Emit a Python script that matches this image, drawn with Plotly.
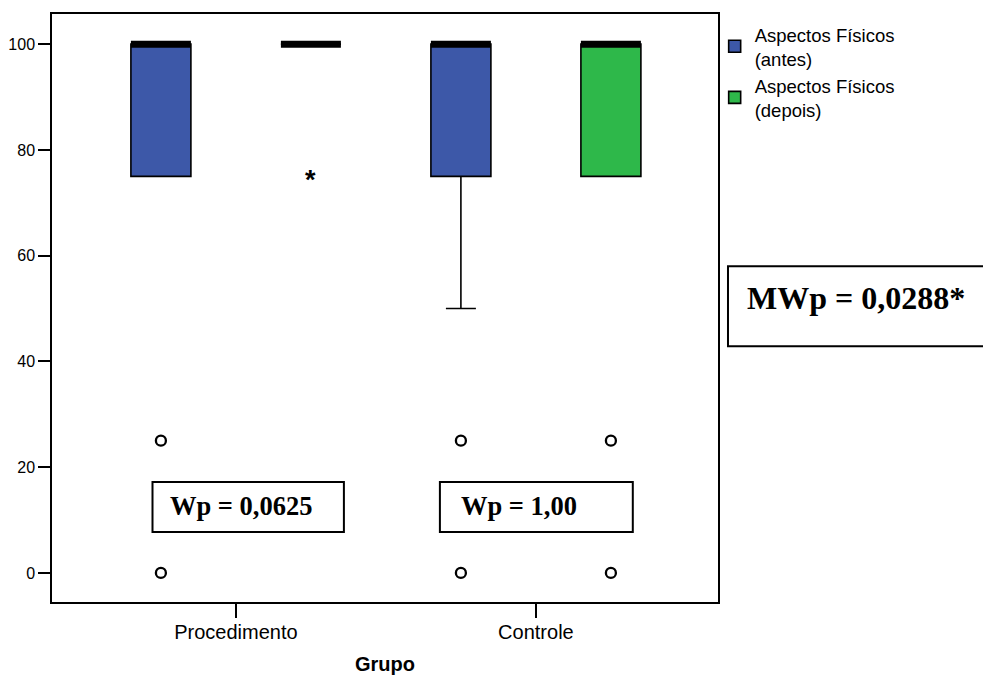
import plotly.graph_objects as go

# ---------------- data ----------------
groups = ["Procedimento", "Controle"]
series_names = ["Aspectos Físicos<br>(antes)", "Aspectos Físicos<br>(depois)"]

antes_q1 = [75, 75]
antes_median = [100, 100]
antes_q3 = [100, 100]
antes_lower = [75, 50]
antes_upper = [100, 100]
antes_outliers = [[25, 0], [25, 0]]
antes_extremes = [[], []]

depois_q1 = [100, 75]
depois_median = [100, 100]
depois_q3 = [100, 100]
depois_lower = [100, 75]
depois_upper = [100, 100]
depois_outliers = [[], [25, 0]]
depois_extremes = [[75], []]

wp_labels = ["Wp = 0,0625", "Wp = 1,00"]
mw_label = "MWp = 0,0288*"

y_ticks = [0, 20, 40, 60, 80, 100]

# ---------------- style ----------------
colors = ["#3D58A8", "#2EB84A"]
offsets = [-0.25, 0.25]
box_w = 0.2
sans = "Liberation Sans, Arial, sans-serif"
serif = "Liberation Serif, Times New Roman, serif"

series = [
    dict(q1=antes_q1, med=antes_median, q3=antes_q3, lo=antes_lower, hi=antes_upper,
         out=antes_outliers, ext=antes_extremes),
    dict(q1=depois_q1, med=depois_median, q3=depois_q3, lo=depois_lower, hi=depois_upper,
         out=depois_outliers, ext=depois_extremes),
]

fig = go.Figure()

for s, (name, d) in enumerate(zip(series_names, series)):
    xs = [g + offsets[s] for g in range(len(groups))]
    fig.add_trace(go.Box(
        x=xs, q1=d["q1"], median=d["med"], q3=d["q3"],
        lowerfence=d["lo"], upperfence=d["hi"],
        name=name, width=box_w, whiskerwidth=0.5,
        fillcolor=colors[s], line=dict(color="black", width=1.6),
        boxpoints=False, showlegend=True, hoverinfo="skip",
    ))

for s, d in enumerate(series):
    for g in range(len(groups)):
        xc = g + offsets[s]
        # thick median line
        fig.add_trace(go.Scatter(
            x=[xc - box_w / 2, xc + box_w / 2], y=[d["med"][g], d["med"][g]],
            mode="lines", line=dict(color="black", width=7),
            showlegend=False, hoverinfo="skip"))
        if d["out"][g]:
            fig.add_trace(go.Scatter(
                x=[xc] * len(d["out"][g]), y=d["out"][g], mode="markers",
                marker=dict(symbol="circle-open", size=10, color="black",
                            line=dict(width=2.3, color="black")),
                showlegend=False, hoverinfo="skip"))
        for v in d["ext"][g]:
            fig.add_annotation(x=xc, y=v, text="<b>*</b>", showarrow=False,
                               font=dict(family=sans, size=27, color="black"),
                               yshift=-4)

# Wilcoxon boxes
wp_box_x = [(-0.278, 0.36), (-0.32, 0.323)]
wp_text_x = [-0.225, -0.255]
for g in range(len(groups)):
    x0, x1 = wp_box_x[g]
    fig.add_shape(type="rect", xref="x", yref="y", x0=g + x0, x1=g + x1,
                  y0=7.75, y1=17.2, line=dict(color="black", width=2),
                  fillcolor="white", layer="above")
    fig.add_annotation(x=g + wp_text_x[g], y=12.6, xref="x", yref="y",
                       text="<b>" + wp_labels[g] + "</b>", showarrow=False,
                       xanchor="left", yanchor="middle",
                       font=dict(family=serif, size=26.5, color="black"))

# Mann-Whitney box
fig.add_shape(type="rect", xref="paper", yref="paper", x0=1.015, x1=1.42,
              y0=0.435, y1=0.571, line=dict(color="black", width=2))
fig.add_annotation(x=1.04, y=0.517, xref="paper", yref="paper",
                   text="<b>" + mw_label + "</b>", showarrow=False,
                   xanchor="left", yanchor="middle",
                   font=dict(family=serif, size=32, color="black"))

# page body has an 8px default margin -> figure is 8px smaller, margins shifted
fig.update_layout(
    width=983, height=667,
    margin=dict(l=44, r=273, t=6, b=73, autoexpand=False),
    paper_bgcolor="white", plot_bgcolor="white",
    font=dict(family=sans, color="black"),
    legend=dict(x=0.995, y=0.997, xanchor="left", yanchor="top",
                font=dict(family=sans, size=18.5, color="black"),
                bgcolor="rgba(0,0,0,0)", tracegroupgap=0),
    showlegend=True,
)
fig.update_xaxes(
    range=[-0.613, 1.607], tickvals=list(range(len(groups))), ticktext=groups,
    ticks="outside", ticklen=14, tickwidth=1.5, tickcolor="black",
    ticklabelstandoff=-3, automargin=False,
    showline=True, linecolor="black", linewidth=1.5, mirror=True,
    showgrid=False, zeroline=False,
    tickfont=dict(family=sans, size=20, color="black"),
    title=dict(text="<b>Grupo</b>", font=dict(family=sans, size=20, color="black"),
               standoff=16),
)
fig.update_yaxes(
    range=[-5.5, 105.7], tickvals=y_ticks,
    ticks="outside", ticklen=12, tickwidth=1.5, tickcolor="black",
    automargin=False,
    showline=True, linecolor="black", linewidth=1.5, mirror=True,
    showgrid=False, zeroline=False,
    tickfont=dict(family=sans, size=16, color="black"),
)

fig.write_html("out.html")
